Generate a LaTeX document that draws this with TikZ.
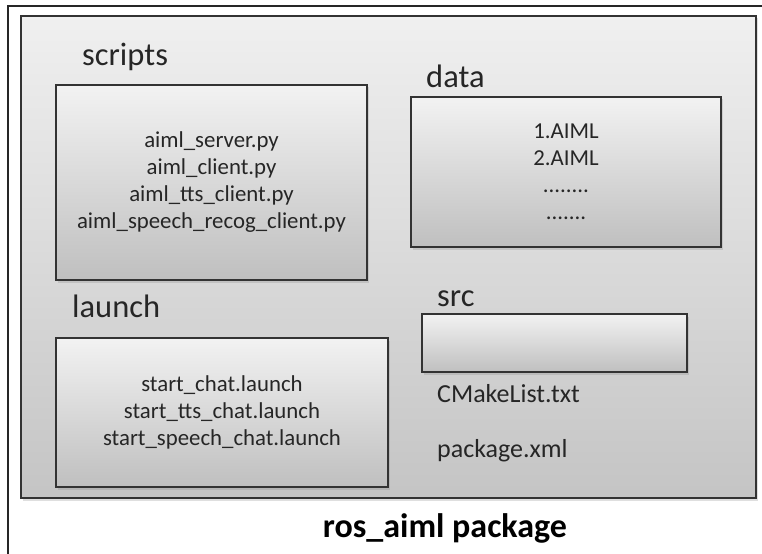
\documentclass[tikz,border=0pt]{standalone}
\usepackage{fontspec}
\setmainfont{Carlito}
\usetikzlibrary{positioning,shadows}
\definecolor{edge}{HTML}{333333}
\definecolor{ink}{HTML}{262626}

\begin{document}
\begin{tikzpicture}[x=1bp,y=-1bp,text=ink,
  folder/.style={draw=edge,line width=1.4bp,top color=black!5,bottom color=black!25,inner sep=0pt,align=center,
    font=\fontsize{22.8bp}{27bp}\selectfont,drop shadow={shadow xshift=2bp,shadow yshift=-2.5bp,opacity=.25}},
  dirname/.style={anchor=base west,inner sep=0pt,font=\fontsize{32.5bp}{36bp}\selectfont},
  filename/.style={anchor=base west,inner sep=0pt,font=\fontsize{26bp}{30bp}\selectfont}]
\useasboundingbox (0,0) rectangle (762,554);
\draw[line width=1.4bp,draw=black!85] (8,554) -- (8,6) -- (762,6);
\node[folder,top color=black!6,bottom color=black!23,minimum width=735bp,minimum height=482bp] (pkg) at (388.5,257) {};
\node[folder,minimum width=311bp,minimum height=195bp] (scripts) at (211.5,182.5) {aiml\_server.py\\aiml\_client.py\\aiml\_tts\_client.py\\aiml\_speech\_recog\_client.py};
\node[folder,minimum width=310bp,minimum height=150bp] (data) at (566,172) {1.AIML\\2.AIML\\........\\.......};
\node[folder,minimum width=332bp,minimum height=149bp] (launch) at (222,412.5) {start\_chat.launch\\start\_tts\_chat.launch\\start\_speech\_chat.launch};
\node[folder,minimum width=265bp,minimum height=58bp] (src) at (554.5,343) {};
\node[dirname] (scriptsname) at (82,66) {scripts};
\node[dirname] (dataname) at (426,88) {data};
\node[dirname] (launchname) at (72,317) {launch};
\node[dirname] (srcname) at (437,306) {src};
\node[filename] (cmake) at (437,402) {CMakeList.txt};
\node[filename] (manifest) at (437,457) {package.xml};
\node[anchor=base,inner sep=0pt,font=\fontsize{34bp}{38bp}\selectfont\bfseries,text=black] (title) at (445,537) {ros\_aiml package};
\end{tikzpicture}
\end{document}
